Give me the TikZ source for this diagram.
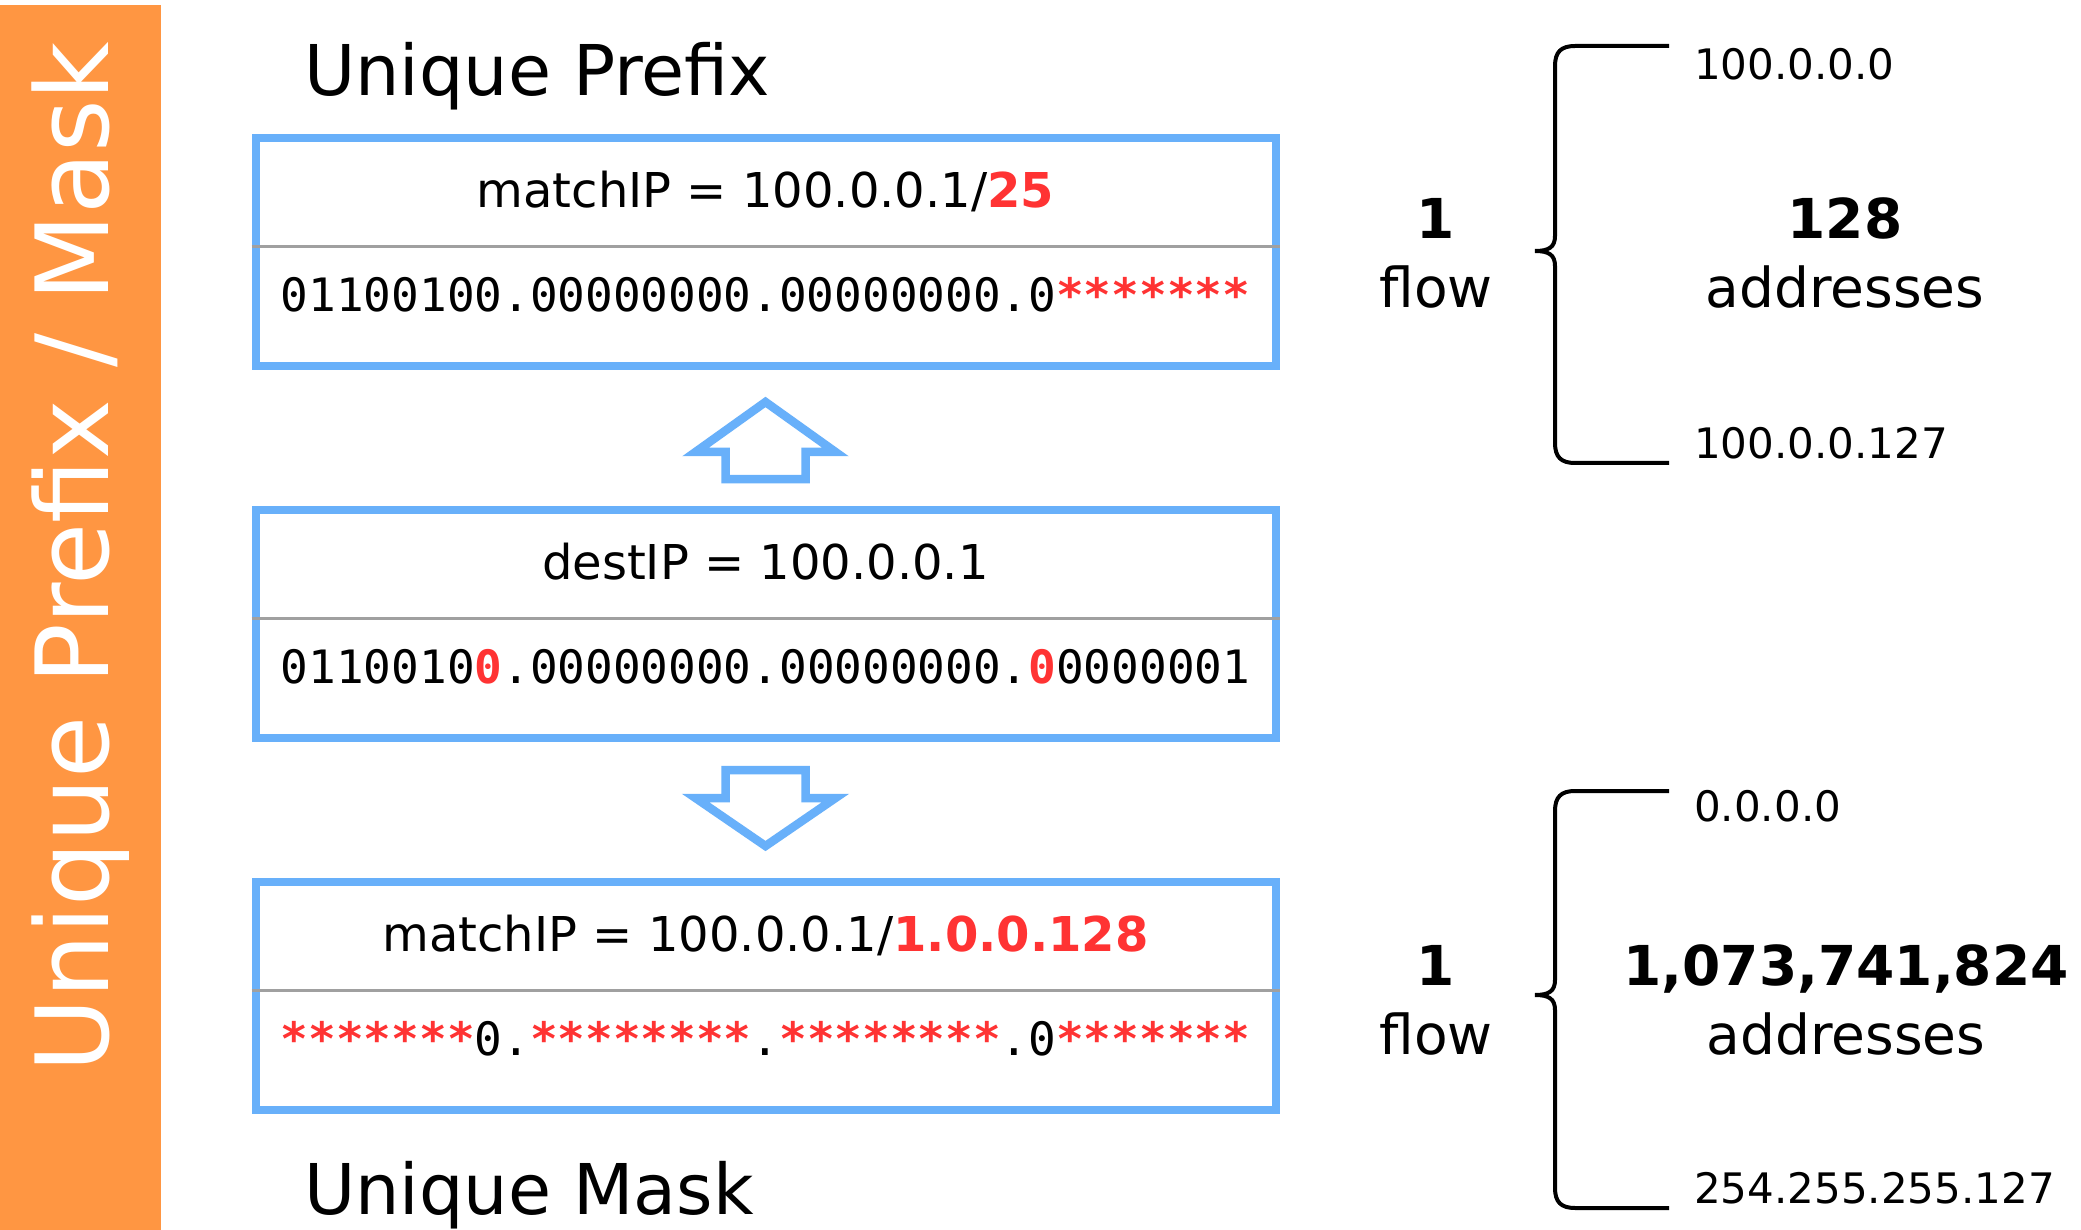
\documentclass[tikz,border=0pt]{standalone}
\usepackage{fontspec}
\setmainfont{DejaVu Sans}
\setmonofont{DejaVu Sans Mono}
\usetikzlibrary{calc}

\definecolor{boxblue}{RGB}{104,176,250}
\definecolor{hired}{RGB}{255,51,51}
\definecolor{bandorange}{RGB}{255,150,66}
\definecolor{divgray}{RGB}{160,160,160}

\newcommand\fsz[1]{\fontsize{#1}{#1}\selectfont}
\newcommand\hl[1]{\textcolor{hired}{\bfseries #1}}

\tikzset{
  ipbox/.style={draw=boxblue, line width=8pt, minimum width=1020pt,
    minimum height=228pt, inner sep=0pt},
  divider/.style={draw=divgray, line width=2.5pt},
  boxtitle/.style={anchor=base, inner sep=0pt, font=\fsz{48}},
  bits/.style={anchor=base, inner sep=0pt, font=\ttfamily\fsz{46}},
  heading/.style={anchor=base west, inner sep=0pt, font=\fsz{70}},
  iplabel/.style={anchor=base west, inner sep=0pt, font=\fsz{42}},
  count/.style={anchor=base, inner sep=0pt, font=\fsz{55}},
  bracepath/.style={draw=black, line width=4pt},
  blockarrow/.style={draw=boxblue, line width=8.5pt, line join=miter},
}

\begin{document}
\begin{tikzpicture}[x=1pt, y=-1pt]
  \useasboundingbox (0,0) rectangle (2081,1230);
  \fill[white] (0,0) rectangle (2081,1230);

  % side band with vertical title
  \fill[bandorange] (0,5) rectangle (161,1230);
  \node[anchor=base, rotate=90, inner sep=0pt, text=white, font=\fsz{101}]
    (sidetitle) at (108,557) {Unique Prefix / Mask};

  % headings
  \node[heading] (hprefix) at (304,96) {Unique Prefix};
  \node[heading] (hmask) at (304,1214) {Unique Mask};

  % the three address boxes
  \node[ipbox] (b1) at (765.5,252) {};
  \node[ipbox] (b2) at (765.5,624) {};
  \node[ipbox] (b3) at (765.5,996) {};

  \foreach \b in {b1,b2,b3}{
    \draw[divider] ([yshift=-112.5pt]\b.north west) -- ([yshift=-112.5pt]\b.north east);
  }

  \node[boxtitle] (t1) at ([yshift=-73.5pt]b1.north) {matchIP = 100.0.0.1/\hl{25}};
  \node[bits] (r1) at ([yshift=-177.5pt]b1.north)
    {01100100.00000000.00000000.0\hl{*******}};

  \node[boxtitle] (t2) at ([yshift=-73.5pt]b2.north) {destIP = 100.0.0.1};
  \node[bits] (r2) at ([yshift=-177.5pt]b2.north)
    {0110010\hl{0}.00000000.00000000.\hl{0}0000001};

  \node[boxtitle] (t3) at ([yshift=-73.5pt]b3.north) {matchIP = 100.0.0.1/\hl{1.0.0.128}};
  \node[bits] (r3) at ([yshift=-177.5pt]b3.north)
    {\hl{*******}0.\hl{********}.\hl{********}.0\hl{*******}};

  % block arrows between the boxes
  \coordinate (up) at ($(b1.south)!0.5!(b2.north)$);
  \draw[blockarrow] ($(up)+(0,-36)$) -- ++(70,50) -- ++(-30,0) -- ++(0,27)
    -- ++(-80,0) -- ++(0,-27) -- ++(-30,0) -- cycle;

  \coordinate (down) at ($(b2.south)!0.5!(b3.north)$);
  \draw[blockarrow] ($(down)+(0,36)$) -- ++(70,-48) -- ++(-30,0) -- ++(0,-28)
    -- ++(-80,0) -- ++(0,28) -- ++(-30,0) -- cycle;

  % upper range brace
  \coordinate (ua) at (1669,46);
  \coordinate (um) at (1535,251);
  \coordinate (ub) at (1669,463);
  \draw[bracepath] (ua) -- (1575,46) .. controls (1561,46) and (1555,52) .. (1555,66)
    -- (1555,236) .. controls (1555,247) and (1549,251) .. (um)
    .. controls (1549,251) and (1555,255) .. (1555,266)
    -- (1555,443) .. controls (1555,457) and (1561,463) .. (1575,463) -- (ub);

  \node[iplabel] (ip1a) at (1694,80) {100.0.0.0};
  \node[iplabel] (ip1b) at (1694,458) {100.0.0.127};
  \node[count] (n1) at (1436,239) {\bfseries 1};
  \node[count] (f1) at (1436,308) {flow};
  \node[count] (a1) at (1845,239) {\bfseries 128};
  \node[count] (w1) at (1845,308) {addresses};

  % lower range brace
  \coordinate (la) at (1669,791);
  \coordinate (lm) at (1535,995);
  \coordinate (lb) at (1669,1208);
  \draw[bracepath] (la) -- (1575,791) .. controls (1561,791) and (1555,797) .. (1555,811)
    -- (1555,980) .. controls (1555,991) and (1549,995) .. (lm)
    .. controls (1549,995) and (1555,999) .. (1555,1010)
    -- (1555,1188) .. controls (1555,1202) and (1561,1208) .. (1575,1208) -- (lb);

  \node[iplabel] (ip2a) at (1694,821) {0.0.0.0};
  \node[iplabel] (ip2b) at (1694,1203) {254.255.255.127};
  \node[count] (n2) at (1436,985) {\bfseries 1};
  \node[count] (f2) at (1436,1054) {flow};
  \node[count] (a2) at (1846,985) {\bfseries 1,073,741,824};
  \node[count] (w2) at (1846,1054) {addresses};
\end{tikzpicture}
\end{document}
